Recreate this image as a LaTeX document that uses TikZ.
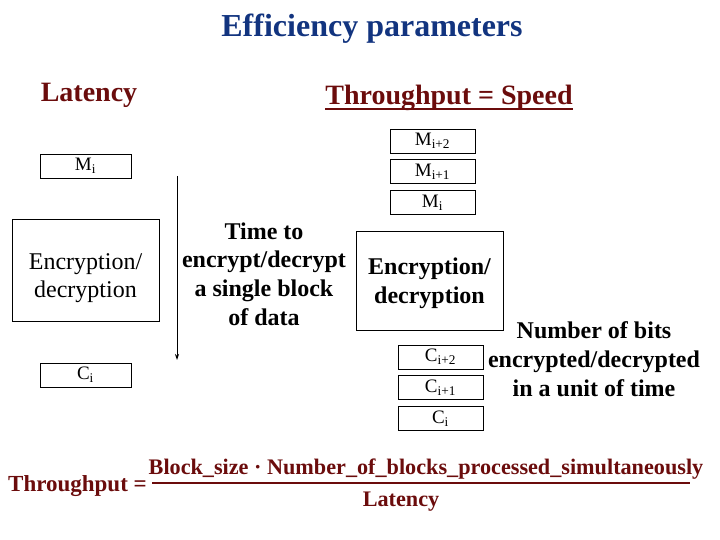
\documentclass[tikz,border=0pt]{standalone}
\usepackage{fontspec}
\setmainfont{Liberation Serif}
\usetikzlibrary{
    positioning,
    arrows.meta
}
\definecolor{TituloAzul}{HTML}{12347F}
\definecolor{VinhoEscuro}{HTML}{6B0C0C}

\tikzset{
  blocobox/.style={draw, line width=0.8pt, minimum width=91pt, minimum height=24pt,
    inner sep=0pt, font=\fontsize{19}{22}\selectfont},
  cifrabox/.style={draw, line width=0.8pt, minimum width=147pt, minimum height=102pt},
  cifratexto/.style={align=center, inner sep=0pt, font=\fontsize{24}{28.7}\selectfont},
  nota/.style={align=center, inner sep=0pt, font=\fontsize{24}{28.7}\selectfont\bfseries},
  cabeca/.style={text=VinhoEscuro, inner sep=0pt, anchor=base,
    font=\fontsize{28}{32}\selectfont\bfseries},
  formula/.style={text=VinhoEscuro, inner sep=0pt, anchor=base,
    font=\fontsize{22.2}{27}\selectfont\bfseries}
}

\begin{document}
\begin{tikzpicture}[x=1pt, y=-1pt]
  \useasboundingbox (0,0) rectangle (720,540);

  % titulo e cabecalhos
  \node[anchor=base, inner sep=0pt, text=TituloAzul,
        font=\fontsize{32}{36}\selectfont\bfseries] (titulo) at (372,37) {Efficiency parameters};
  \node[cabeca] (latencia) at (89,102) {Latency};
  \node[cabeca] (vazao) at (449,105) {Throughput = Speed};
  \draw[VinhoEscuro, line width=1.6pt] ([yshift=-4pt]vazao.base west) -- ([yshift=-4pt]vazao.base east);

  % lado esquerdo: latencia
  \node[blocobox] (mEsq) at (85.5,166) {M\textsubscript{i}};
  \node[cifrabox] (cifraEsq) at (85.5,270) {};
  \node[cifratexto] (cifraEsqTxt) at ([yshift=-8pt]cifraEsq.center) {Encryption/\\decryption};
  \node[blocobox] (cEsq) at (85.5,375) {C\textsubscript{i}};

  \coordinate (tempoTopo) at (177,176);
  \coordinate (tempoFim) at (177,360);
  \draw[line width=0.8pt, -{Stealth[length=6pt, width=4pt]}] (tempoTopo) -- (tempoFim);

  \node[nota] (tempo) at (264,274) {Time to\\encrypt/decrypt\\a single block\\of data};

  % lado direito: vazao
  \node[blocobox, minimum width=85pt] (mA) at (432.5,141) {M\textsubscript{i+2}};
  \node[blocobox, minimum width=85pt, below=6pt of mA] (mB) {M\textsubscript{i+1}};
  \node[blocobox, minimum width=85pt, below=6pt of mB] (mC) {M\textsubscript{i}};

  \node[cifrabox, minimum height=99pt] (cifraDir) at (429.5,280.5) {};
  \node[nota] (cifraDirTxt) at ([yshift=-3pt]cifraDir.center) {Encryption/\\decryption};

  \node[blocobox, minimum width=85pt] (cA) at (440.5,357) {C\textsubscript{i+2}};
  \node[blocobox, minimum width=85pt, below=6pt of cA] (cB) {C\textsubscript{i+1}};
  \node[blocobox, minimum width=85pt, below=6pt of cB] (cC) {C\textsubscript{i}};

  \node[nota] (bits) at (594,359) {Number of bits\\encrypted/decrypted\\in a unit of time};

  % formula
  \node[formula, anchor=base west, font=\fontsize{23}{27}\selectfont\bfseries] (vazaoEq) at (8,491) {Throughput =};
  \node[formula] (numerador) at (426,474) {Block\_size · Number\_of\_blocks\_processed\_simultaneously};
  \node[formula] (denominador) at (401,506) {Latency};
  \coordinate (fracEsq) at (152,483);
  \coordinate (fracDir) at (690,483);
  \draw[VinhoEscuro, line width=1.2pt] (fracEsq) -- (fracDir);
\end{tikzpicture}
\end{document}
